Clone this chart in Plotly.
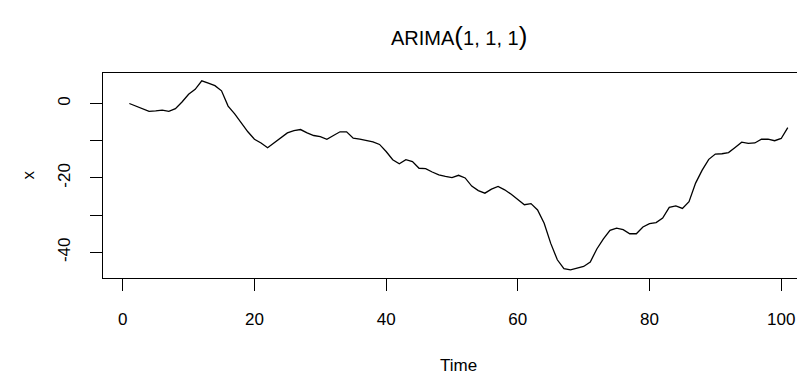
import plotly.graph_objects as go

time = list(range(1, 102))
values = [
    0.0, -0.7, -1.4, -2.1, -2.0, -1.8, -2.1, -1.4, 0.4, 2.5,
    3.8, 6.1, 5.5, 4.8, 3.4, -0.7, -2.8, -5.2, -7.6, -9.6,
    -10.6, -11.9, -10.6, -9.2, -7.9, -7.3, -7.0, -7.9, -8.6, -8.9,
    -9.6, -8.6, -7.6, -7.6, -9.3, -9.6, -9.9, -10.3, -11.0, -12.9,
    -15.1, -16.2, -15.1, -15.6, -17.4, -17.5, -18.4, -19.2, -19.6, -19.9,
    -19.3, -20.0, -22.2, -23.4, -24.1, -23.0, -22.3, -23.2, -24.4, -25.8,
    -27.2, -26.9, -28.6, -32.2, -37.6, -42.0, -44.4, -44.7, -44.2, -43.8,
    -42.6, -39.1, -36.4, -34.1, -33.5, -33.9, -35.0, -35.0, -33.2, -32.3,
    -32.0, -30.8, -27.9, -27.5, -28.2, -26.4, -21.4, -17.9, -15.0, -13.6,
    -13.5, -13.2, -11.8, -10.4, -10.7, -10.6, -9.6, -9.6, -10.0, -9.4,
    -6.5,
]
x_ticks = [0, 20, 40, 60, 80, 100]
y_ticks = [-40, -30, -20, -10, 0]
y_tick_text = ["-40", "", "-20", "", "0"]

FONT = "Liberation Sans Narrow, Liberation Sans, Arial, sans-serif"

fig = go.Figure()
fig.add_trace(go.Scatter(x=time, y=values, mode="lines",
                         line=dict(color="black", width=1.3),
                         hoverinfo="skip", showlegend=False))

fig.update_layout(
    width=797, height=374,
    margin=dict(l=103, r=0, t=73, b=96),
    paper_bgcolor="white", plot_bgcolor="white",
    font=dict(family=FONT, size=17, color="black"),
    xaxis=dict(range=[-3, 102.4], tickvals=x_ticks, ticks="outside", ticklen=12,
               tickcolor="black", tickwidth=1, showline=True, linecolor="black",
               linewidth=1.3, mirror=True, showgrid=False, zeroline=False,
               tickfont=dict(size=17), ticklabelstandoff=13),
    yaxis=dict(range=[-46.9, 8.2], tickvals=y_ticks, ticktext=y_tick_text,
               ticks="outside", ticklen=12, tickcolor="black", tickwidth=1,
               showline=True, linecolor="black", linewidth=1.3, mirror=False,
               showgrid=False, zeroline=False, tickangle=-90,
               tickfont=dict(size=17), ticklabelstandoff=13),
    annotations=[
        dict(x=51, y=1, xref="x", yref="paper", yshift=20,
             text="ARIMA<span style='font-size:26px'>(</span>1, 1, 1<span style='font-size:26px'>)</span>",
             showarrow=False, yanchor="bottom", xanchor="center",
             font=dict(size=20)),
        dict(x=51, y=0, xref="x", yref="paper",
             text="Time", showarrow=False, yanchor="middle", xanchor="center",
             font=dict(size=17), yshift=-87),
        dict(x=0, y=0.5, xref="paper", yref="paper", xshift=-75,
             text="x", showarrow=False, textangle=-90,
             xanchor="center", yanchor="middle", font=dict(size=17)),
    ],
)

fig.write_html("out.html")
